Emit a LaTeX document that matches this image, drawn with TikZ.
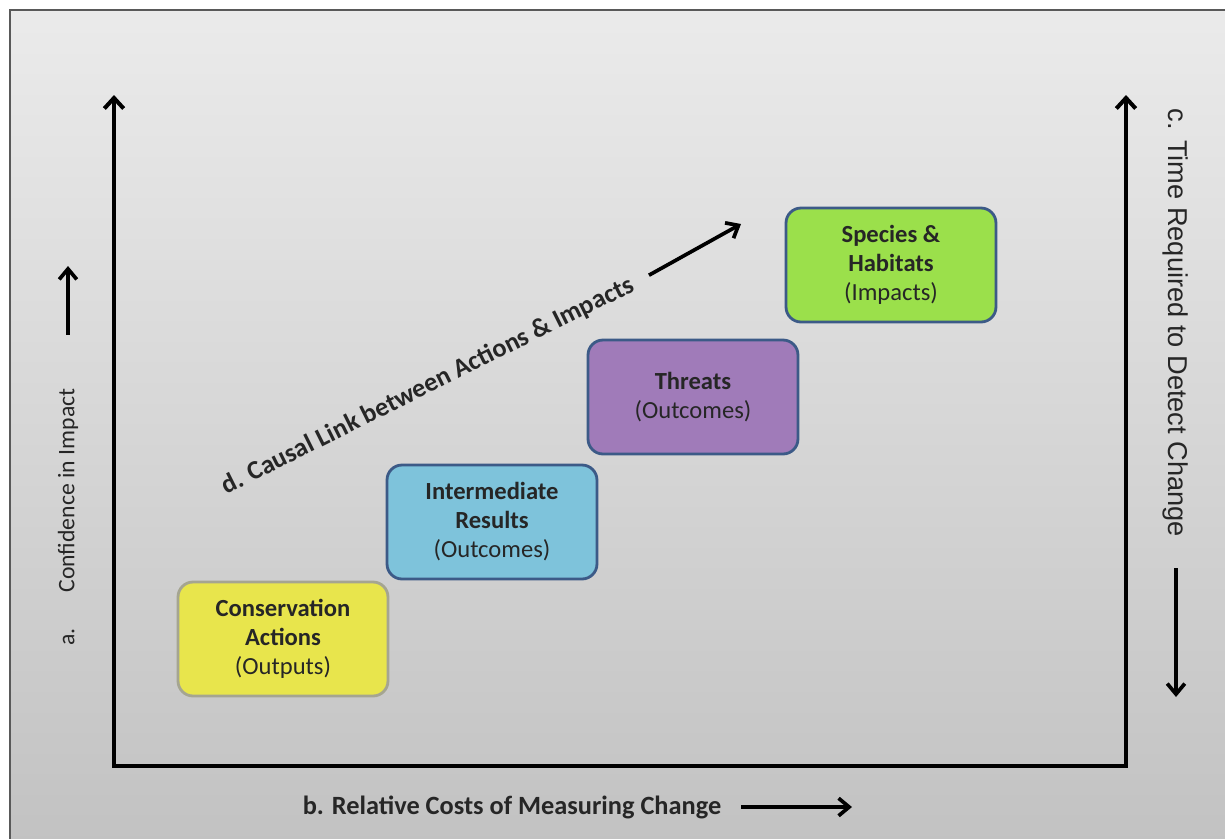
\documentclass[tikz,border=0pt]{standalone}
\usepackage{fontspec}
\setmainfont{Carlito}
\newfontfamily\arialfont{Liberation Sans}
\usetikzlibrary{arrows.meta,positioning,calc}
\definecolor{boxyellow}{RGB}{232,229,76}
\definecolor{boxblue}{RGB}{126,195,219}
\definecolor{boxpurple}{RGB}{160,123,185}
\definecolor{boxgreen}{RGB}{155,224,75}
\definecolor{edgeblue}{RGB}{60,90,135}
\definecolor{edgegray}{RGB}{165,165,145}

\begin{document}
\begin{tikzpicture}[x=0.02cm, y=-0.02cm,
    stage/.style={draw=edgeblue, line width=1.6pt, rounded corners=0.3cm, minimum width=4.2cm, minimum height=2.28cm, align=center, font=\fontsize{14}{16.5}\selectfont, text=black!85},
    axis/.style={line width=2.3pt, {Straight Barb[length=6pt,width=11pt]}-{Straight Barb[length=6pt,width=11pt]}},
    hint/.style={line width=2.1pt, -{Straight Barb[length=6pt,width=10pt]}},
    note/.style={font=\fontsize{15}{18}\selectfont\bfseries, text=black!85}]
    \fill[white] (0,0) rectangle (1225,839);
    \useasboundingbox (0,0) rectangle (1225,839);
    \shade[top color=black!8, bottom color=black!24] (10,10) rectangle (1240,850);
    \draw[black!65, line width=0.8pt] (10,850) -- (10,10) -- (1240,10);

    \node[stage, fill=boxyellow, draw=edgegray] (actions) at (283,639) {\textbf{Conservation}\\\textbf{Actions}\\(Outputs)};
    \node[stage, fill=boxblue] (results) at (492,522) {\textbf{Intermediate}\\\textbf{Results}\\(Outcomes)};
    \node[stage, fill=boxpurple] (threats) at (693,397) {\textbf{Threats}\\(Outcomes)};
    \node[stage, fill=boxgreen] (species) at (891,265) {\textbf{Species \&}\\\textbf{Habitats}\\(Impacts)};

    \coordinate (ytop) at (114,95);
    \coordinate (origin) at (114,766);
    \coordinate (xend) at (1126,766);
    \coordinate (ttop) at (1126,95);
    \draw[axis] (ytop) -- (origin) -- (xend) -- (ttop);

    \node[rotate=90, font=\fontsize{13.5}{16}\selectfont, text=black!85] (confidence) at (68,517) {a.\hspace{1.5em}Confidence in Impact};
    \coordinate (confidence tip) at (68,266);
    \draw[hint, shorten <=0.95cm] (confidence.east) -- (confidence tip);

    \node[rotate=-90, font=\arialfont\fontsize{15.5}{18}\selectfont, text=black!85] (time) at (1176,323) {c. Time Required to Detect Change};
    \coordinate (time tip) at (1176,697);
    \draw[hint, shorten <=0.5cm] (time.east) -- (time tip);

    \node[note] (costs) at (512,807) {b. Relative Costs of Measuring Change};
    \coordinate (costs tip) at (852,807);
    \draw[hint, shorten <=0.28cm] (costs.east) -- (costs tip);

    \node[note, rotate=26.5] (causal) at (428,386) {d. Causal Link between Actions \& Impacts};
    \coordinate (causal tip) at (741,224);
    \draw[hint, shorten <=0.25cm] (causal.east) -- (causal tip);
\end{tikzpicture}
\end{document}
